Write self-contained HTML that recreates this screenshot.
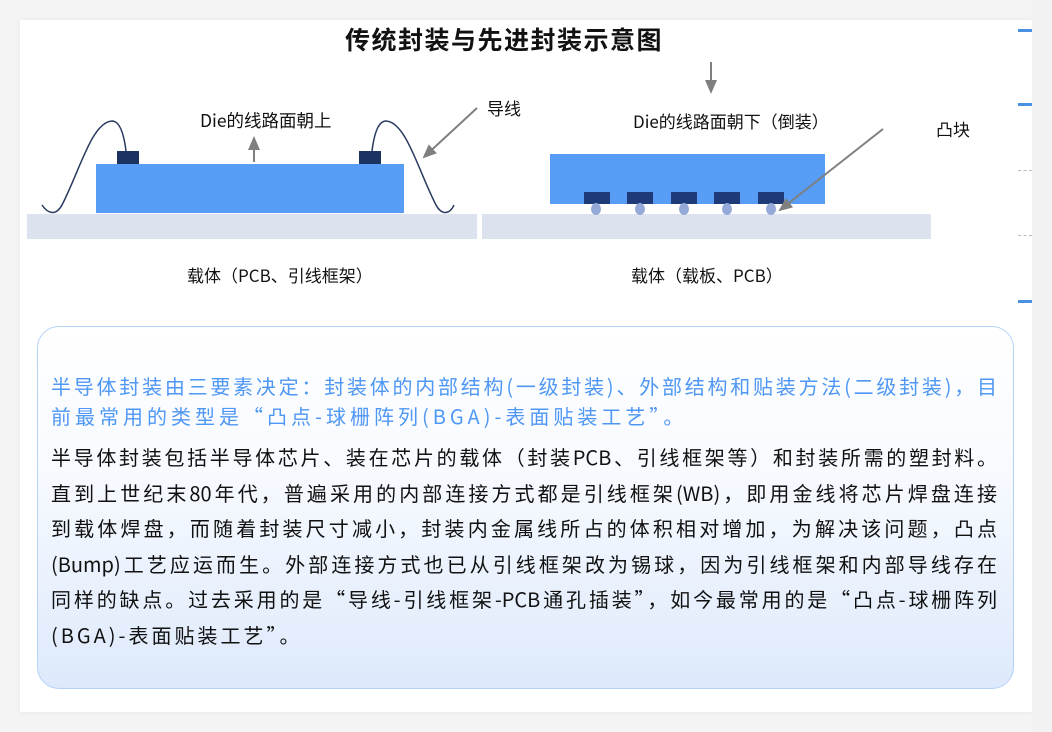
<!DOCTYPE html>
<html><head><meta charset="utf-8"><style>
*{margin:0;padding:0;box-sizing:border-box}
body{width:1052px;height:732px;background:#f4f4f5;position:relative;overflow:hidden;font-family:"Liberation Sans","Noto Sans CJK SC",sans-serif}
.card{position:absolute;left:20px;top:20px;width:1012px;height:692px;background:#fff;box-shadow:0 0 6px rgba(0,0,0,0.06)}
.strip{position:absolute;left:1032px;top:0;width:20px;height:732px;background:#f2f2f3}
.mk{position:absolute;left:1018px;width:14px;height:3px;background:#4a90e2}
.dash{position:absolute;left:1018px;width:14px;height:0;border-top:1px dashed #bbb}
.t{position:absolute;white-space:nowrap;color:#111;font-family:"Noto Sans CJK SC","Liberation Sans",sans-serif;line-height:20px}
.box{position:absolute;left:37px;top:326px;width:977px;height:363px;border:1.5px solid #b5d1f7;border-radius:22px;background:linear-gradient(#ffffff,#f7faff 40%,#dde9fb)}
.ln{position:absolute;left:51px;width:946px;font-size:20px;white-space:nowrap;text-align:justify;text-align-last:justify;line-height:24px;height:24px;font-family:"Noto Sans CJK SC","Liberation Sans",sans-serif}
.b{color:#4f97f5}
.k{color:#111}
</style></head><body>
<div class="card"></div>
<div class="strip"></div>
<div class="mk" style="top:29px"></div>
<div class="mk" style="top:103px"></div>
<div class="mk" style="top:300px"></div>
<div class="dash" style="top:170px"></div>
<div class="dash" style="top:235px"></div>

<div class="t" style="left:345px;top:28px;font-size:25px;font-weight:bold;letter-spacing:1.5px;font-family:'Liberation Sans','Noto Sans CJK SC',sans-serif;line-height:26px">传统封装与先进封装示意图</div>

<svg style="position:absolute;left:0;top:0" width="1052" height="320">
<defs><marker id="b" markerWidth="14" markerHeight="12" refX="12" refY="6" orient="auto" markerUnits="userSpaceOnUse"><path d="M0,0L14,6L0,12z" fill="#7f7f7f"/></marker></defs>
<rect x="27" y="214" width="450" height="25" fill="#dde2ef"/>
<rect x="96" y="164" width="308" height="49" fill="#579df5"/>
<rect x="117" y="151" width="22" height="13" fill="#1c3260"/>
<rect x="359" y="151" width="22" height="13" fill="#1c3260"/>
<path d="M42,205 C48,214 56,216 62,205 C80,170 92,122 112,121 C120,121 124,135 126,151" fill="none" stroke="#2a3a60" stroke-width="1.5"/>
<path d="M372,151 C374,135 378,121 386,121 C406,122 418,170 436,205 C442,216 450,214 454,205" fill="none" stroke="#2a3a60" stroke-width="1.5"/>
<line x1="254" y1="162" x2="254" y2="138" stroke="#7f7f7f" stroke-width="2" marker-end="url(#b)"/>
<line x1="477" y1="108" x2="424" y2="157" stroke="#7f7f7f" stroke-width="2" marker-end="url(#b)"/>
<rect x="482" y="214" width="449" height="25" fill="#dde2ef"/>
<rect x="550" y="154" width="275" height="50" fill="#579df5"/>
<g fill="#1f3a78"><rect x="584" y="192" width="26" height="12"/><rect x="627" y="192" width="26" height="12"/><rect x="671" y="192" width="26" height="12"/><rect x="714" y="192" width="26" height="12"/><rect x="758" y="192" width="26" height="12"/></g>
<g fill="#95a9d8"><ellipse cx="596" cy="209" rx="5" ry="6"/><ellipse cx="640" cy="209" rx="5" ry="6"/><ellipse cx="684" cy="209" rx="5" ry="6"/><ellipse cx="727" cy="209" rx="5" ry="6"/><ellipse cx="771" cy="209" rx="5" ry="6"/></g>
<line x1="711" y1="62" x2="711" y2="92" stroke="#7f7f7f" stroke-width="2" marker-end="url(#b)"/>
<line x1="883" y1="129" x2="780" y2="210" stroke="#7f7f7f" stroke-width="2" marker-end="url(#b)"/>
</svg>

<div class="t" style="left:200px;top:111px;font-size:17.5px">Die的线路面朝上</div>
<div class="t" style="left:487px;top:98px;font-size:17px">导线</div>
<div class="t" style="left:633px;top:111px;font-size:17px">Die的线路面朝下（倒装）</div>
<div class="t" style="left:936px;top:119px;font-size:17px">凸块</div>
<div class="t" style="left:187px;top:265px;font-size:17px">载体（PCB、引线框架）</div>
<div class="t" style="left:631px;top:265px;font-size:17px">载体（载板、PCB）</div>

<div class="box"></div>
<div class="ln b" style="top:374px">半导体封装由三要素决定：封装体的内部结构(一级封装)、外部结构和贴装方法(二级封装)，目</div>
<div class="ln b" style="top:404px;width:auto;text-align:left;text-align-last:left;letter-spacing:4px">前最常用的类型是“凸点-球栅阵列(BGA)-表面贴装工艺”。</div>
<div class="ln k" style="top:445px">半导体封装包括半导体芯片、装在芯片的载体（封装PCB、引线框架等）和封装所需的塑封料。</div>
<div class="ln k" style="top:481px">直到上世纪末80年代，普遍采用的内部连接方式都是引线框架(WB)，即用金线将芯片焊盘连接</div>
<div class="ln k" style="top:516px">到载体焊盘，而随着封装尺寸减小，封装内金属线所占的体积相对增加，为解决该问题，凸点</div>
<div class="ln k" style="top:552px">(Bump)工艺应运而生。外部连接方式也已从引线框架改为锡球，因为引线框架和内部导线存在</div>
<div class="ln k" style="top:587px">同样的缺点。过去采用的是“导线-引线框架-PCB通孔插装”，如今最常用的是“凸点-球栅阵列</div>
<div class="ln k" style="top:623px;width:auto;text-align:left;text-align-last:left;letter-spacing:3px">(BGA)-表面贴装工艺”。</div>
</body></html>
